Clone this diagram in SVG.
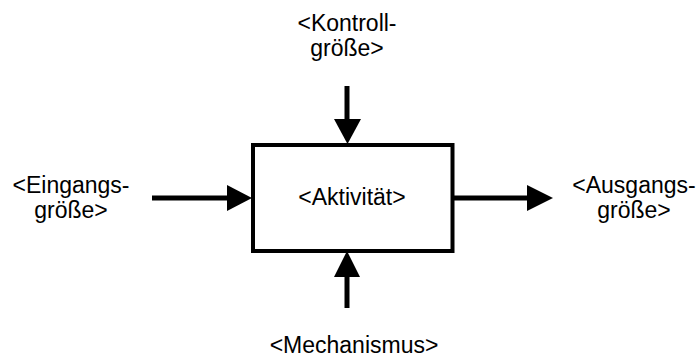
<svg xmlns="http://www.w3.org/2000/svg" width="699" height="361" viewBox="0 0 699 361">
<style>
text{font-family:"Liberation Sans",Arial,sans-serif;font-size:23px;fill:#000;text-anchor:middle}
.shaft{stroke:#000;stroke-width:5;fill:none}
.head{fill:#000}
</style>
<rect width="699" height="361" fill="#fff"/>
<g id="connectors">
<line class="shaft" x1="347" y1="86" x2="347" y2="121"/>
<polygon class="head" points="334,119 361,119 347.5,144"/>
<line class="shaft" x1="347" y1="308" x2="347" y2="275"/>
<polygon class="head" points="334,277 360,277 347,251"/>
<line class="shaft" x1="152" y1="198" x2="229" y2="198"/>
<polygon class="head" points="227,185 227,211 252,198"/>
<line class="shaft" x1="454" y1="198" x2="529" y2="198"/>
<polygon class="head" points="527,185 527,211 553,198"/>
</g>
<g id="activity">
<rect x="253" y="145" width="199.5" height="106" fill="#fff" stroke="#000" stroke-width="4"/>
<text x="352" y="205">&lt;Aktivität&gt;</text>
</g>
<g id="control">
<text x="347" y="31">&lt;Kontroll-</text>
<text x="347" y="56">größe&gt;</text>
</g>
<g id="input">
<text x="71" y="193">&lt;Eingangs-</text>
<text x="71" y="218">größe&gt;</text>
</g>
<g id="output">
<text x="634" y="193">&lt;Ausgangs-</text>
<text x="634" y="218">größe&gt;</text>
</g>
<g id="mechanism">
<text x="354" y="353">&lt;Mechanismus&gt;</text>
</g>
</svg>
